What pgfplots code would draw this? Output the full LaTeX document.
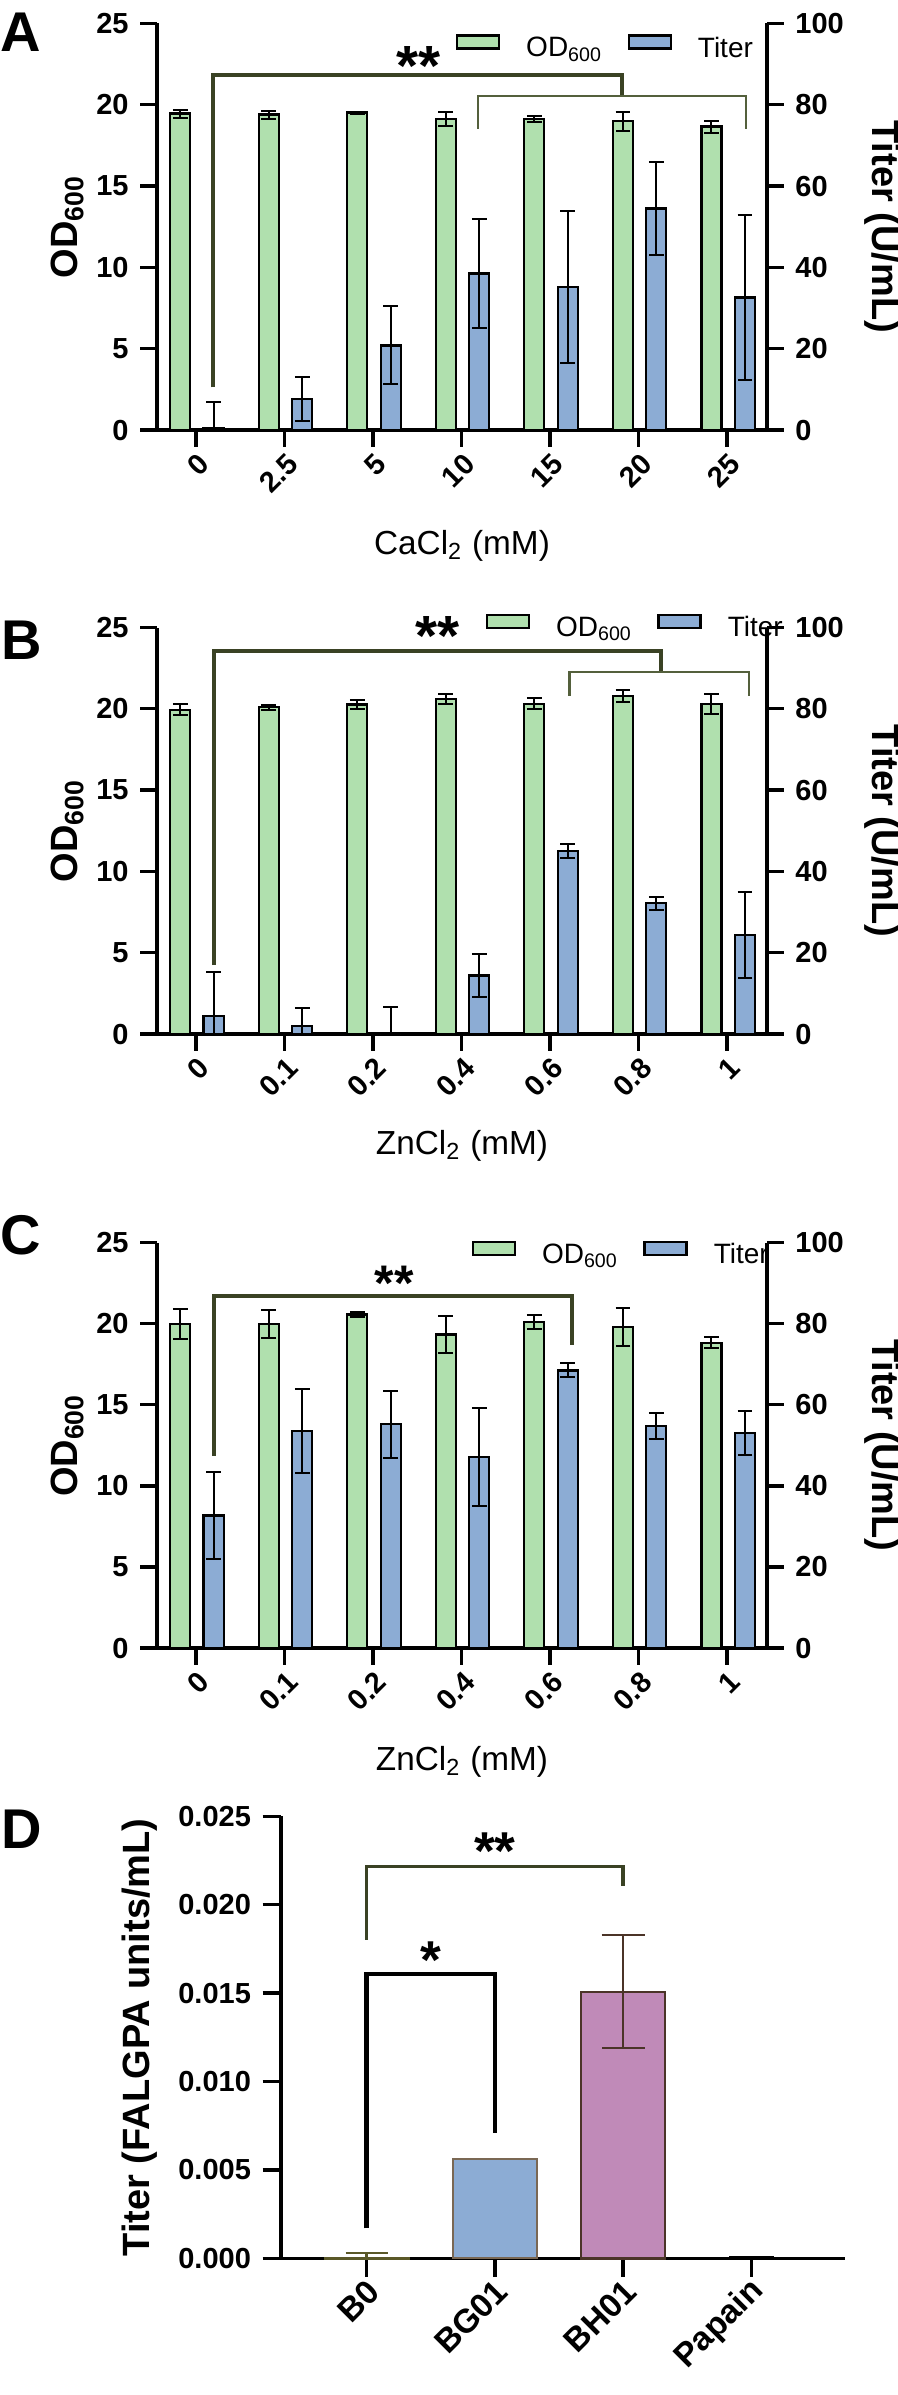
\documentclass[border=0pt]{standalone}
\usepackage{fontspec}
\setmainfont{Liberation Sans}
\usepackage{pgfplots}
\pgfplotsset{compat=1.18}

\definecolor{odgreen}{RGB}{176,224,174}
\definecolor{titerblue}{RGB}{140,172,212}
\definecolor{mauve}{RGB}{192,138,184}
\definecolor{olivedark}{RGB}{58,66,36}
\definecolor{olivelight}{RGB}{84,96,60}
\definecolor{bgline}{RGB}{122,104,84}
\definecolor{bhline}{RGB}{75,52,40}
\definecolor{bzolive}{RGB}{90,88,40}

\newcommand\tickfont{\bfseries\fontsize{8.7}{10}\selectfont}
\newcommand\labfont{\bfseries\fontsize{11.4}{13}\selectfont}
\newcommand\starfont{\bfseries\fontsize{17}{17}\selectfont}

\pgfplotsset{
  panel/.style={
    scale only axis, width=183pt,
    xmin=-0.44, xmax=6.45, ymin=0,
    axis line style={line width=1pt},
    major tick style={line width=1pt, black},
    major tick length=5pt,
    tick align=outside,
    tick label style={font=\tickfont},
    /pgf/number format/assume math mode=true,
  },
  leftpanel/.style={panel,
    axis x line*=bottom, axis y line*=left,
    ymax=25, ytick={0,5,...,25}, xtick={0,...,6},
    x tick label style={rotate=45, anchor=east, xshift=2.6pt, yshift=-4.4pt},
    ylabel={OD\textsubscript{600}},
    ylabel style={font=\labfont, at={(axis description cs:-0.147,0.5)}, anchor=center},
    xlabel style={font=\fontsize{10}{12}\selectfont, anchor=center},
    clip=false,
    legend columns=2,
    legend image code/.code={\draw[##1, line width=0.7pt] (0pt,0.3pt) rectangle (12.6pt,4.2pt);},
    legend style={draw=none, fill=none, inner sep=0pt, outer sep=0pt, anchor=west,
      font=\fontsize{8.4}{10}\selectfont, nodes={inner sep=0pt},
      /tikz/every odd column/.append style={column sep=7.8pt},
      /tikz/every even column/.append style={column sep=7.5pt}},
  },
  rightpanel/.style={panel,
    axis x line=none, axis y line*=right,
    ymax=100, ytick={0,20,...,100}, xtick=\empty,
    ylabel={Titer (U/mL)},
    ylabel style={font=\labfont, at={(axis description cs:1.1885,0.5)}, anchor=center, rotate=180},
  },
  gbar/.style={ybar, bar width=0.226, fill=odgreen, draw=black, line width=0.7pt,
    error bars/.cd, y dir=both, y explicit,
    error bar style={line width=0.6pt, black},
    error mark options={rotate=90, mark size=2.2pt, line width=0.6pt, black}},
  bbar/.style={ybar, bar width=0.226, fill=titerblue, draw=black, line width=0.7pt,
    error bars/.cd, y dir=both, y explicit,
    error bar style={line width=0.6pt, black},
    error mark options={rotate=90, mark size=2.2pt, line width=0.6pt, black}},
  brk/.style={forget plot, mark=none, sharp plot, line join=miter},
}

\begin{document}
\begin{tikzpicture}
\path[use as bounding box] (0pt,0pt) rectangle (269.4pt,-718.5pt);

% panel letters
\node[font=\bfseries\fontsize{16.8}{17}\selectfont] at (6.3pt,-9.6pt) {A};
\node[font=\bfseries\fontsize{16.8}{17}\selectfont] at (6.45pt,-192pt) {B};
\node[font=\bfseries\fontsize{16.8}{17}\selectfont] at (6.3pt,-370.5pt) {C};
\node[font=\bfseries\fontsize{16.8}{17}\selectfont] at (6.45pt,-548.7pt) {D};

% ================= A =================
\begin{axis}[leftpanel, height=122pt, at={(47.1pt,-129pt)}, anchor=south west,
  xticklabels={0,2.5,5,10,15,20,25},
  xlabel={CaCl\textsubscript{2} (mM)},
  xlabel style={at={(axis description cs:0.5,-0.285)}},
  legend style={at={(axis description cs:0.490,0.9385)}}]
\addplot[forget plot, gbar] coordinates {
(-0.178,19.45) +- (0,0.25)
(0.822,19.39) +- (0,0.25)
(1.822,19.51) +- (0,0.06)
(2.822,19.10) +- (0,0.43)
(3.822,19.12) +- (0,0.20)
(4.822,18.98) +- (0,0.59)
(5.822,18.65) +- (0,0.36)
};
\addplot[brk, olivedark, line width=1.25pt] coordinates {(0.19,2.62) (0.19,21.8) (4.81,21.8) (4.81,20.54)};
\addplot[brk, olivelight, line width=0.65pt] coordinates {(3.19,18.53) (3.19,20.54) (6.21,20.54) (6.21,18.53)};
\addlegendimage{fill=odgreen, draw=black}
\addlegendentry{OD\textsubscript{600}}
\addlegendimage{fill=titerblue, draw=black}
\addlegendentry{Titer}
\node[font=\starfont, anchor=base] at (axis cs:2.51,21.17) {**};
\end{axis}
\begin{axis}[rightpanel, height=122pt, at={(47.1pt,-129pt)}, anchor=south west]
\addplot[bbar] coordinates {
(0.2,0.5) +- (0,6.5)
(1.2,7.6) +- (0,5.4)
(2.2,20.8) +- (0,9.6)
(3.2,38.5) +- (0,13.5)
(4.2,35.2) +- (0,18.6)
(5.2,54.5) +- (0,11.5)
(6.2,32.6) +- (0,20.2)
};
\end{axis}

% ================= B =================
\begin{axis}[leftpanel, height=121.95pt, at={(47.1pt,-310.2pt)}, anchor=south west,
  xticklabels={0,0.1,0.2,0.4,0.6,0.8,1},
  xlabel={ZnCl\textsubscript{2} (mM)},
  xlabel style={at={(axis description cs:0.5,-0.275)}},
  legend style={at={(axis description cs:0.539,1.0)}}]
\addplot[forget plot, gbar] coordinates {
(-0.178,19.94) +- (0,0.34)
(0.822,20.10) +- (0,0.15)
(1.822,20.27) +- (0,0.29)
(2.822,20.61) +- (0,0.29)
(3.822,20.30) +- (0,0.34)
(4.822,20.78) +- (0,0.35)
(5.822,20.30) +- (0,0.63)
};
\addplot[brk, olivedark, line width=1.25pt] coordinates {(0.2,4.23) (0.2,23.56) (5.25,23.56) (5.25,22.27)};
\addplot[brk, olivelight, line width=0.65pt] coordinates {(4.22,20.8) (4.22,22.27) (6.25,22.27) (6.25,20.8)};
\addlegendimage{fill=odgreen, draw=black}
\addlegendentry{OD\textsubscript{600}}
\addlegendimage{fill=titerblue, draw=black}
\addlegendentry{Titer}
\node[font=\starfont, anchor=base] at (axis cs:2.73,23.25) {**};
\end{axis}
\begin{axis}[rightpanel, height=121.95pt, at={(47.1pt,-310.2pt)}, anchor=south west]
\addplot[bbar] coordinates {
(0.2,4.5) +- (0,10.7)
(1.2,2.05) +- (0,4.3)
(2.2,0) +- (0,6.7)
(3.2,14.4) +- (0,5.3)
(4.2,45.0) +- (0,1.7)
(5.2,32.2) +- (0,1.6)
(6.2,24.4) +- (0,10.5)
};
\end{axis}

% ================= C =================
\begin{axis}[leftpanel, height=121.6pt, at={(47.1pt,-494.4pt)}, anchor=south west,
  xticklabels={0,0.1,0.2,0.4,0.6,0.8,1},
  xlabel={ZnCl\textsubscript{2} (mM)},
  xlabel style={at={(axis description cs:0.5,-0.28)}},
  legend style={at={(axis description cs:0.516,0.970)}}]
\addplot[forget plot, gbar] coordinates {
(-0.178,20.00) +- (0,0.94)
(0.822,20.00) +- (0,0.85)
(1.822,20.57) +- (0,0.13)
(2.822,19.34) +- (0,1.13)
(3.822,20.12) +- (0,0.43)
(4.822,19.80) +- (0,1.18)
(5.822,18.83) +- (0,0.33)
};
\addplot[brk, olivedark, line width=1.25pt] coordinates {(0.2,11.87) (0.2,21.7) (4.25,21.7) (4.25,18.68)};
\addlegendimage{fill=odgreen, draw=black}
\addlegendentry{OD\textsubscript{600}}
\addlegendimage{fill=titerblue, draw=black}
\addlegendentry{Titer}
\node[font=\bfseries\fontsize{15}{15}\selectfont, anchor=base] at (axis cs:2.24,21.45) {**};
\end{axis}
\begin{axis}[rightpanel, height=121.6pt, at={(47.1pt,-494.4pt)}, anchor=south west]
\addplot[bbar] coordinates {
(0.2,32.7) +- (0,10.8)
(1.2,53.5) +- (0,10.3)
(2.2,55.2) +- (0,8.3)
(3.2,47.1) +- (0,12.0)
(4.2,68.5) +- (0,1.7)
(5.2,54.8) +- (0,3.2)
(6.2,53.0) +- (0,5.5)
};
\end{axis}

% ================= D =================
\begin{axis}[scale only axis, width=169.2pt, height=132.6pt,
  at={(84.3pt,-677.5pt)}, anchor=south west,
  xmin=-0.668, xmax=3.73, ymin=0, ymax=0.025,
  axis x line*=bottom, axis y line*=left,
  axis line style={line width=1pt},
  major tick style={line width=1pt, black},
  major tick length=5.5pt, tick align=outside,
  tick label style={font=\tickfont},
  /pgf/number format/assume math mode=true,
  ytick={0,0.005,0.01,0.015,0.02,0.025},
  scaled y ticks=false,
  yticklabel style={/pgf/number format/.cd, fixed, fixed zerofill, precision=3},
  xtick={0,1,2,3}, xticklabels={B0,BG01,BH01,Papain},
  x tick label style={rotate=45, anchor=east, xshift=3pt, yshift=-3.5pt, font=\bfseries\fontsize{10}{12}\selectfont},
  ylabel={Titer (FALGPA units/mL)},
  ylabel style={font=\labfont, at={(axis description cs:-0.25,0.5)}, anchor=center},
  clip=false]
\addplot[ybar, bar width=0.655, fill=white, draw=bzolive, line width=0.7pt,
  error bars/.cd, y dir=plus, y explicit,
  error bar style={line width=0.7pt, bzolive},
  error mark options={rotate=90, mark size=6.3pt, line width=0.7pt, bzolive}]
  coordinates {(0,0.00002) +- (0,0.00028)};
\addplot[ybar, bar width=0.655, fill=titerblue, draw=bgline, line width=0.6pt]
  coordinates {(1,0.00562)};
\addplot[ybar, bar width=0.655, fill=mauve, draw=bhline, line width=0.7pt,
  error bars/.cd, y dir=both, y explicit,
  error bar style={line width=0.7pt, bhline},
  error mark options={rotate=90, mark size=6.45pt, line width=0.7pt, bhline}]
  coordinates {(2,0.01508) +- (0,0.0032)};
\addplot[ybar, bar width=0.335, fill=black, draw=black, line width=0.6pt]
  coordinates {(3,0.00007)};
\addplot[brk, olivedark, line width=1.1pt] coordinates {(0,0.01803) (0,0.02216) (2,0.02216) (2,0.02107)};
\addplot[brk, black, line width=1.4pt] coordinates {(0,0.0017) (0,0.01608) (1,0.01608) (1,0.00707)};
\node[font=\bfseries\fontsize{16}{16}\selectfont, anchor=base] at (axis cs:1,0.02199) {**};
\node[font=\bfseries\fontsize{16}{16}\selectfont, anchor=base] at (axis cs:0.5,0.01585) {*};
\end{axis}
\end{tikzpicture}
\end{document}
